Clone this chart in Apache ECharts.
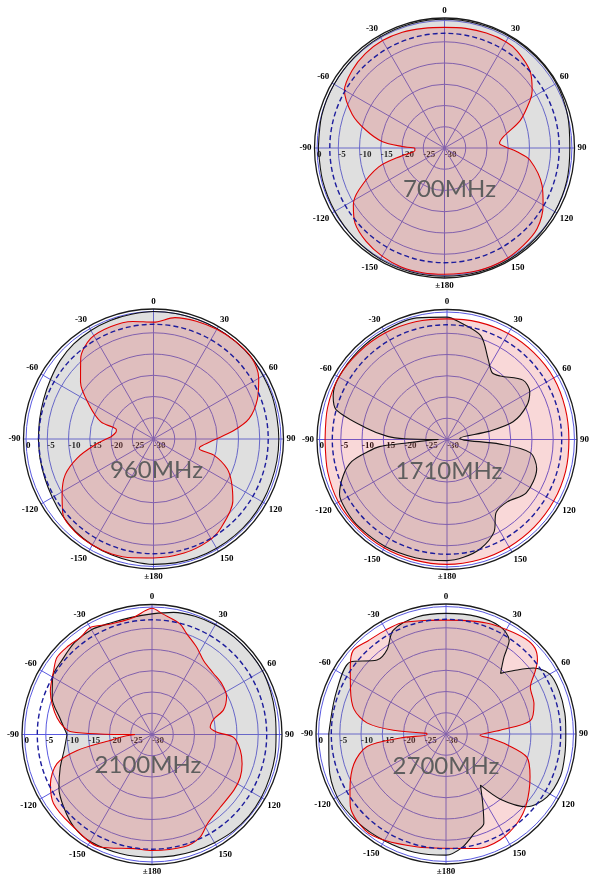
<!DOCTYPE html>
<html><head><meta charset="utf-8">
<script src="https://cdn.jsdelivr.net/npm/echarts@6/dist/echarts.min.js"></script>
<style>html,body{margin:0;padding:0;background:#fff}#c{width:600px;height:887px}</style>
</head><body><div id="c"></div>
<script>
// ---- data: [angle (deg, 0 = top, clockwise), level (dB)] ----
const panelNames = ['700MHz', '960MHz', '1710MHz', '2100MHz', '2700MHz'];
const radiusTicks = [-30, -25, -20, -15, -10, -5, 0];
const halfPowerLevel = -3;

const red700 = [[-180,-0.3],[-170,-0.2],[-160,-0.2],[-150,-0.6],[-140,-1.3],[-130,-2.5],[-122,-4.7],[-116,-7.6],[-106,-13.9],[-100,-20],[-95,-23],[-90,-23],[-88,-20],[-84,-15.2],[-77,-10.9],[-70,-6.9],[-60,-2.8],[-50,-1.6],[-40,-1.0],[-30,-0.8],[-20,-1.0],[-10,-1.4],[0,-1.6],[10,-1.4],[20,-1.2],[30,-1.1],[37,-1.5],[48,-2.9],[57,-5.4],[61,-7],[70,-11],[79,-15.8],[85,-17],[89,-15.6],[93,-12.9],[98,-9.7],[111,-5.4],[120,-3.2],[131,-1.1],[141,-0.5],[152,-0.1],[165,-0.1]];
const black700 = [[-180,0.2],[-165,0.2],[-150,0.2],[-135,0],[-120,-0.2],[-105,-0.3],[-90,-0.3],[-75,-0.1],[-60,0],[-45,0.1],[-30,0.2],[-15,0.3],[0,0.3],[15,0.3],[30,0.4],[45,0.4],[60,0.4],[75,0],[90,-0.5],[105,-0.2],[120,0],[135,0.2],[150,0.3],[165,0.3]];

const red960 = [[-180,-2],[-170,-1.6],[-160,-1.2],[-150,-1.2],[-140,-1.4],[-130,-2.2],[-121,-4.9],[-112,-7.6],[-104,-11.5],[-96,-16],[-87,-20],[-80,-21],[-76,-21],[-72,-17],[-62,-12.8],[-52,-8.2],[-42,-4.4],[-32,-2.1],[-21,-1.7],[-10,-1.9],[0,-2.5],[10,-1.0],[20,-0.5],[30,-0.2],[40,0],[50,0],[60,-1.4],[69,-3.8],[78,-7],[84,-11],[91,-15.8],[99,-18.8],[102,-19],[105,-15.3],[112,-11.3],[119,-9],[128,-6.3],[143,-3.7],[152,-2.7],[165,-2.2]];
const black960 = [[-180,-0.5],[-170,-0.8],[-160,-1.0],[-150,-1.2],[-140,-1.5],[-130,-2],[-120,-2.5],[-110,-2.8],[-100,-2.9],[-90,-2.9],[-80,-2.8],[-70,-2.5],[-60,-2],[-50,-1.3],[-40,-0.8],[-30,-0.5],[-20,-0.3],[-10,-0.2],[0,0],[10,0],[20,0],[30,0],[40,0],[50,0],[60,-0.2],[70,-0.3],[80,-0.5],[90,-0.5],[100,-0.5],[110,-0.5],[120,-0.4],[130,-0.3],[140,-0.3],[150,-0.3],[160,-0.3],[170,-0.4]];

const red1710 = [[-180,-0.6],[-165,-0.6],[-150,-0.5],[-135,-0.5],[-120,-0.5],[-105,-0.9],[-90,-1.3],[-75,-0.9],[-60,-0.6],[-45,-0.8],[-30,-1.0],[-15,-1.3],[0,-1.6],[15,-1.4],[30,-1.2],[45,-1.1],[60,-1.0],[75,-1.2],[90,-1.3],[105,-1.1],[120,-1.0],[135,-0.9],[150,-0.8],[165,-0.7]];
const black1710 = [[-180,-1.5],[-165,-1.2],[-150,-0.9],[-135,-0.8],[-125,-1.0],[-117,-1.6],[-109,-4.2],[-103,-7],[-99,-10.9],[-96,-14],[-95,-20],[-91,-27],[-90,-28],[-89,-20],[-87,-16],[-82,-10.9],[-75,-3],[-69,-1.3],[-60,-0.6],[-45,-0.5],[-30,-0.5],[-14,-0.5],[0,-1.2],[6,-2.2],[18,-4.3],[27,-8.7],[34,-11],[40,-10.5],[52,-7.3],[60,-7.5],[67,-9.6],[75,-13.9],[79,-20],[85,-27],[92,-26],[95,-17.5],[99,-10.2],[108,-7.8],[124,-7.5],[136,-9.6],[146,-9.3],[153,-5.6],[163,-3.1],[172,-2]];

const red2100 = [[-180,-2.7],[-171,-2.8],[-155,-0.8],[-138,-1.5],[-125,-1.7],[-116,-3.4],[-107,-6.6],[-102,-12],[-98,-20],[-93,-24],[-90,-26],[-88,-11],[-80,-7.3],[-67,-4],[-57,-2.4],[-51,-1.2],[-44,-1.3],[-36,-1.6],[-30,-0.9],[-21,-2.2],[-9,-2.1],[-3,-0.8],[0,-0.3],[5,-1.5],[14,-3.1],[19,-4.9],[27,-6.9],[35,-8.8],[45,-9.6],[54,-9.7],[63,-10.3],[71,-12.2],[76,-15],[83,-16.2],[88,-14.7],[92,-10.8],[100,-8.9],[108,-7.7],[116,-6.9],[124,-6.7],[137,-6.5],[148,-5.3],[155,-3.3],[164,-2.5]];
const black2100 = [[-180,-1.1],[-165,-1],[-150,-0.9],[-140,-1.5],[-130,-3],[-120,-4.7],[-110,-7],[-100,-9],[-90,-10],[-80,-8],[-70,-5],[-60,-3],[-50,-2.5],[-40,-1.7],[-30,-1.5],[-20,-2],[-10,-2],[0,-1.6],[10,-0.8],[20,-0.4],[30,-0.2],[40,0],[50,0],[60,0],[70,-0.3],[80,-0.6],[90,-0.8],[100,-0.6],[110,-0.5],[120,-0.3],[130,-0.2],[140,-0.3],[150,-0.6],[160,-0.8],[170,-1]];

const red2700 = [[-180,-3.1],[-166,-2.6],[-150,-1.1],[-140,-0.4],[-127,-1.8],[-120,-3.9],[-108,-7.2],[-99,-11.2],[-95,-19.2],[-92,-25.5],[-88,-25.5],[-86,-17.6],[-82,-11.2],[-75,-7.6],[-65,-5.2],[-55,-2.5],[-48,-0.6],[-40,-1.4],[-30,-1.7],[-22,-1.8],[-11,-2.8],[0,-3.2],[10,-2.9],[20,-2.2],[30,-1.6],[40,-0.8],[46,-0.9],[51,-2.3],[55,-4.4],[61,-7.3],[71,-8.1],[81,-9.9],[86,-17.2],[92,-22],[96,-19],[100,-15.4],[106,-10.2],[117,-7.8],[131,-4.9],[141,-3.2],[153,-2],[165,-2.1]];
const black2700 = [[-180,-1.5],[-165,-1.2],[-150,-1],[-135,-0.6],[-120,-0.4],[-105,-1.5],[-90,-2.4],[-70,-2.4],[-53,-1.8],[-43,-6.2],[-35,-5.8],[-27,-2.6],[-14,-1.6],[0,-1.6],[15,-1.4],[27,-1.7],[34,-3.4],[37,-7.3],[42,-10.8],[47,-8.1],[53,-4.2],[60,-1.8],[69,-1.5],[80,-1.6],[90,-1.8],[100,-1.6],[110,-1.3],[122,-2],[132,-4.4],[140,-9.9],[146,-15.5],[152,-11.6],[157,-7.2],[164,-5.7],[172,-3]];

const redSets = [red700, red960, red1710, red2100, red2700];
const blackSets = [black700, black960, black1710, black2100, black2700];

// ---- layout ----
const centers = [[444.5,148],[153.5,439],[447,439.5],[152,734.5],[446,734]];
const labelOffsets = [[5,41],[3,31],[2,32],[-4,31],[0,32]];
const R = 130, RMIN = -30, RMAX = 0.6;
const GRID = '#5a5ae0';

function toSeriesData(arr) {
  const pts = arr.map(([a, v]) => [v, a < -90 ? a + 360 : a]);
  pts.sort((p, q) => p[1] - q[1]);
  pts.push([pts[0][0], pts[0][1] + 360]);
  return pts;
}
function angleLabel(v) {
  if (v === 270) return '';
  if (v === 180) return '\u00b1180';
  return String(v > 180 ? v - 360 : v);
}

const polar = [], angleAxis = [], radiusAxis = [], series = [], graphic = [];
centers.forEach((c, i) => {
  const main = polar.length;
  polar.push({center: c, radius: R});
  angleAxis.push({
    polarIndex: main, type: 'value', min: -90, max: 270, interval: 30,
    startAngle: 180, clockwise: true, z: 1,
    axisLine: {lineStyle: {color: '#1a1a1a', width: 1.3}},
    axisTick: {show: false},
    axisLabel: {formatter: angleLabel, margin: 3, fontSize: 9, color: '#000', fontFamily: 'Liberation Serif', fontWeight: 'bold'},
    splitLine: {lineStyle: {color: GRID, width: 1}}
  });
  radiusAxis.push({
    polarIndex: main, type: 'value', min: RMIN, max: RMAX, interval: 5,
    axisLine: {show: false}, axisTick: {show: false},
    axisLabel: {formatter: v => (radiusTicks.indexOf(v) >= 0 ? String(v) : ''), align: 'left', margin: 2, fontSize: 9, color: '#000', fontFamily: 'Liberation Serif', fontWeight: 'bold'},
    splitLine: {show: true, lineStyle: {color: [GRID, GRID, GRID, GRID, GRID, GRID, GRID, 'rgba(0,0,0,0)'], width: 1}}
  });
  const ref = polar.length;
  polar.push({center: c, radius: R * (halfPowerLevel - RMIN) / (RMAX - RMIN)});
  angleAxis.push({polarIndex: ref, type: 'value', min: -90, max: 270, startAngle: 180, z: 3,
    axisLine: {lineStyle: {color: '#1c1c9c', width: 1.4, type: [5, 3]}},
    axisTick: {show: false}, axisLabel: {show: false}, splitLine: {show: false}});
  radiusAxis.push({polarIndex: ref, type: 'value', min: RMIN, max: halfPowerLevel, show: false});

  series.push({
    type: 'line', coordinateSystem: 'polar', polarIndex: main, smooth: 0.3, symbol: 'none', z: 2,
    data: toSeriesData(blackSets[i]),
    lineStyle: {color: '#111', width: 1.1},
    areaStyle: {origin: 'start', color: 'rgba(140,140,140,0.4)'}
  });
  series.push({
    type: 'line', coordinateSystem: 'polar', polarIndex: main, smooth: 0.3, symbol: 'none', z: 2,
    data: toSeriesData(redSets[i]),
    lineStyle: {color: '#e00000', width: 1.1},
    areaStyle: {origin: 'start', color: 'rgba(228,70,70,0.3)'}
  });
  graphic.push({type: 'text', z: 100, x: c[0] + labelOffsets[i][0], y: c[1] + labelOffsets[i][1],
    style: {text: panelNames[i], font: '24px Lato', fill: '#5e5e5e', textAlign: 'center', textVerticalAlign: 'middle'}});
});

const chart = echarts.init(document.getElementById('c'), null, {renderer: 'canvas'});
chart.setOption({animation: false, backgroundColor: '#fff', polar, angleAxis, radiusAxis, series, graphic});
</script></body></html>
